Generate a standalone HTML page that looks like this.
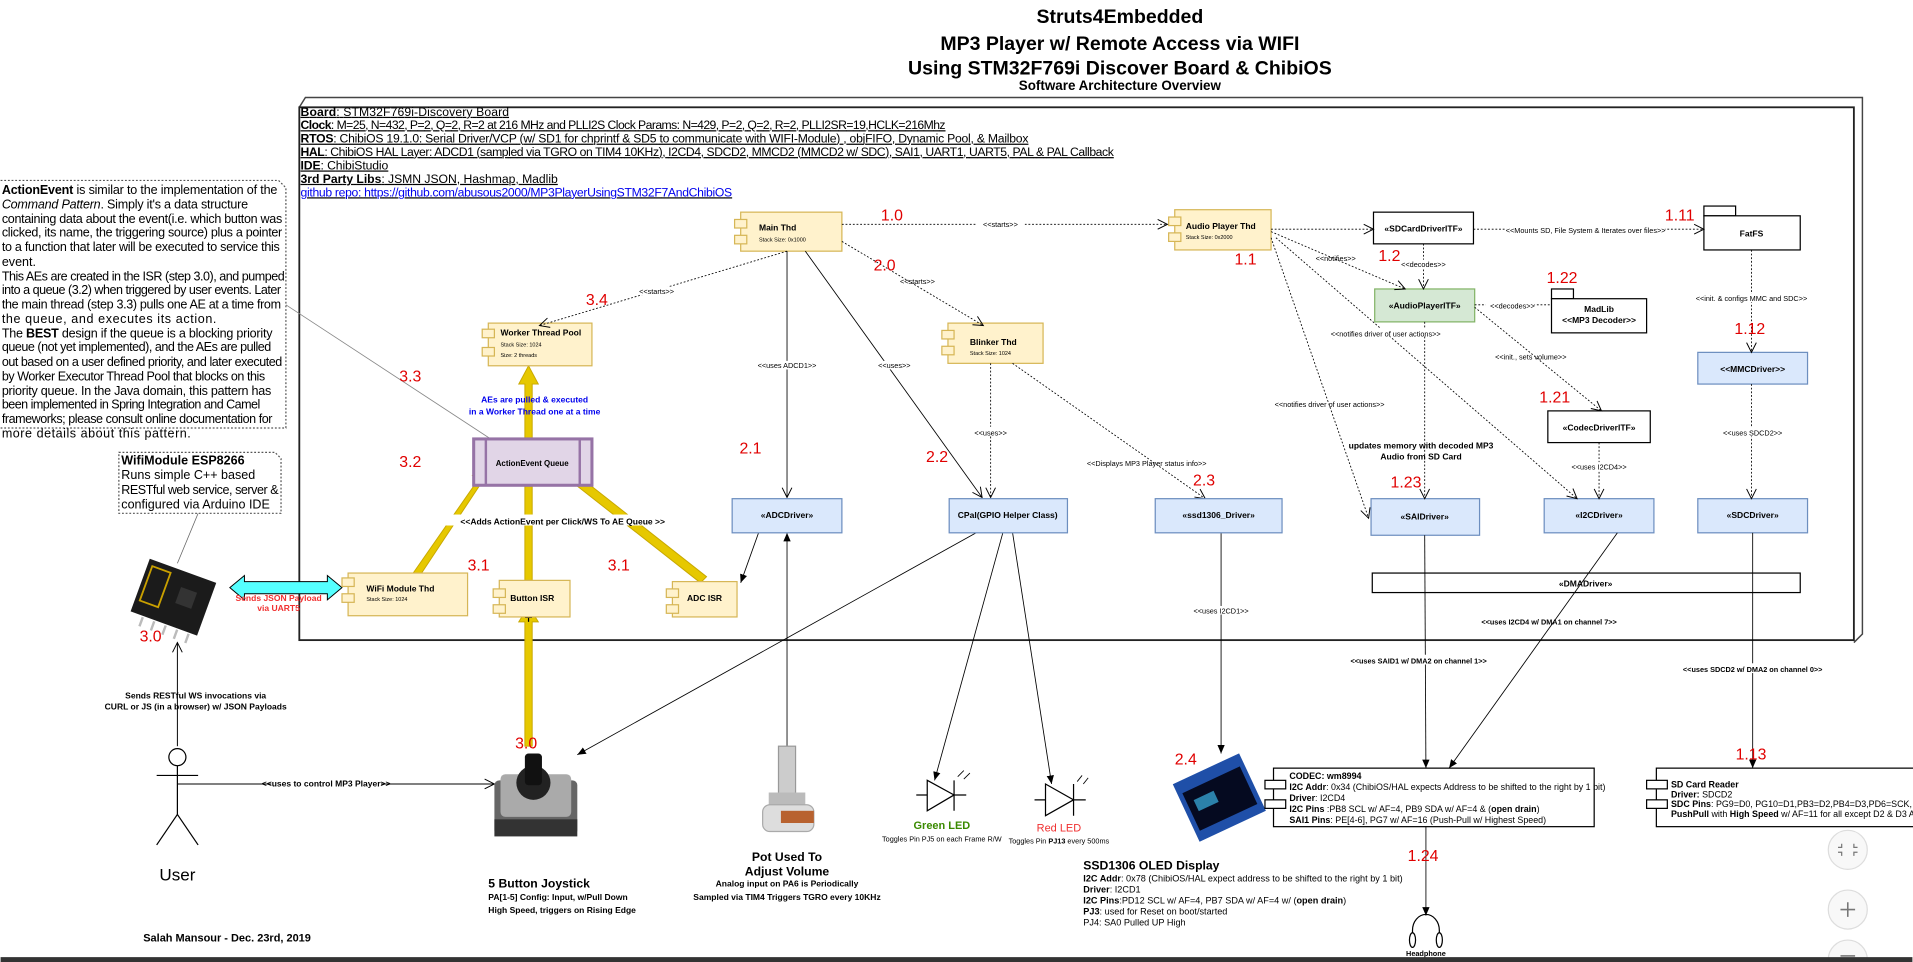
<!DOCTYPE html>
<html><head><meta charset="utf-8"><style>
html,body{margin:0;padding:0;background:#fff;overflow:hidden}
svg{display:block}
text{font-family:"Liberation Sans Narrow","Liberation Sans",sans-serif}
.b{font-weight:bold}
.r{fill:#e00000;font-family:"Liberation Sans",sans-serif}
</style></head><body>
<svg width="1913" height="962" viewBox="0 0 1568 789" xmlns="http://www.w3.org/2000/svg">
<defs>
<marker id="op" markerWidth="10" markerHeight="10" refX="9" refY="5" orient="auto" markerUnits="userSpaceOnUse"><path d="M1,1 L9,5 L1,9" fill="none" stroke="#000" stroke-width="0.8"/></marker>
<marker id="fa" markerWidth="8" markerHeight="8" refX="7" refY="4" orient="auto" markerUnits="userSpaceOnUse"><path d="M0,1 L7,4 L0,7 z" fill="#000"/></marker>
</defs>
<rect width="1568" height="789" fill="#fff"/>

<!-- Title -->
<g text-anchor="middle">
<text x="918" y="19" font-size="16" font-weight="bold" font-family="Liberation Sans,sans-serif">Struts4Embedded</text>
<text x="918" y="41" font-size="16" font-weight="bold" font-family="Liberation Sans,sans-serif">MP3 Player w/ Remote Access via WIFI</text>
<text x="918" y="61" font-size="16" font-weight="bold" font-family="Liberation Sans,sans-serif">Using STM32F769i Discover Board &amp; ChibiOS</text>
<text x="918" y="74" font-size="11" font-weight="bold" font-family="Liberation Sans,sans-serif">Software Architecture Overview</text>
</g>

<!-- Frame -->
<path d="M245,88 L250,80 L1527,80 L1527,520 L1520,527" fill="none" stroke="#444" stroke-width="1.2"/>
<rect x="245" y="88" width="1275" height="437" fill="none" stroke="#222" stroke-width="1.5"/>

<!-- Header text -->
<g font-size="10" text-decoration="underline">
<text x="246" y="95" textLength="171"><tspan class="b">Board</tspan>: STM32F769i-Discovery Board</text>
<text x="246" y="106" textLength="529"><tspan class="b">Clock</tspan>: M=25, N=432, P=2, Q=2, R=2 at 216 MHz and PLLI2S Clock Params: N=429, P=2, Q=2, R=2, PLLI2SR=19,HCLK=216Mhz</text>
<text x="246" y="117" textLength="597"><tspan class="b">RTOS</tspan>: ChibiOS 19.1.0: Serial Driver/VCP (w/ SD1 for chprintf &amp; SD5 to communicate with WIFI-Module) , objFIFO, Dynamic Pool, &amp; Mailbox</text>
<text x="246" y="128" textLength="667"><tspan class="b">HAL</tspan>: ChibiOS HAL Layer: ADCD1 (sampled via  TGRO on TIM4 10KHz), I2CD4, SDCD2, MMCD2 (MMCD2 w/ SDC), SAI1, UART1, UART5, PAL  &amp; PAL Callback</text>
<text x="246" y="139" textLength="72"><tspan class="b">IDE</tspan>: ChibiStudio</text>
<text x="246" y="150" textLength="211"><tspan class="b">3rd Party Libs</tspan>: JSMN JSON, Hashmap, Madlib</text>
<text x="246" y="161" textLength="354" fill="#00e">github repo: https://github.com/abusous2000/MP3PlayerUsingSTM32F7AndChibiOS</text>
</g>

<!-- Left note -->
<path d="M0,148 L228,148 L234,154 L234,351 L0,351" fill="none" stroke="#555" stroke-dasharray="1.5,1.5"/>
<g font-size="10.3">
<text x="1" y="159" textLength="226"><tspan class="b">ActionEvent</tspan> is similar to the implementation of the</text>
<text x="1" y="171" textLength="202"><tspan font-style="italic">Command Pattern</tspan>. Simply it's a data structure</text>
<text x="1" y="183" textLength="230">containing data about the event(i.e. which button was</text>
<text x="1" y="194" textLength="230">clicked, its name, the triggering source) plus a pointer</text>
<text x="1" y="206" textLength="228">to a function that later will be executed to service this</text>
<text x="1" y="218">event.</text>
<text x="1" y="230" textLength="232">This AEs are created in the ISR (step 3.0), and pumped</text>
<text x="1" y="241" textLength="229">into a queue (3.2) when triggered by user events. Later</text>
<text x="1" y="253" textLength="229">the main thread (step 3.3) pulls one AE at a time from</text>
<text x="1" y="265" textLength="176">the queue, and executes its action.</text>
<text x="1" y="277" textLength="222">The <tspan class="b">BEST</tspan> design if the queue is a blocking priority</text>
<text x="1" y="288" textLength="221">queue (not yet implemented), and the AEs are pulled</text>
<text x="1" y="300" textLength="230">out based on a user defined priority, and later executed</text>
<text x="1" y="312" textLength="216">by Worker Executor Thread Pool that blocks on this</text>
<text x="1" y="324" textLength="221">priority queue. In the Java domain, this pattern has</text>
<text x="1" y="335" textLength="212">been implemented in Spring Integration and Camel</text>
<text x="1" y="347" textLength="222">frameworks; please consult online documentation for</text>
<text x="1" y="359" textLength="155">more details about this pattern.</text>
</g>
<line x1="234" y1="250" x2="405" y2="362" stroke="#888" stroke-width="0.7"/>

<!-- Wifi note -->
<path d="M97,371 L225,371 L230,376 L230,421 L97,421 Z" fill="none" stroke="#555" stroke-dasharray="1.5,1.5"/>
<g font-size="10.3"><text x="99" y="381" class="b">WifiModule ESP8266</text>
<text x="99" y="393">Runs simple C++ based</text>
<text x="99" y="405" textLength="129">RESTful web service, server &amp;</text>
<text x="99" y="417">configured via Arduino IDE</text></g>
<line x1="162" y1="421" x2="145" y2="462" stroke="#666" stroke-width="0.6"/>

<!-- ESP board -->
<g transform="translate(142,492) rotate(20)">
<rect x="-30" y="-25" width="58" height="46" fill="#1b1b1b"/>
<rect x="-26" y="-20" width="16" height="30" fill="none" stroke="#c9a000" stroke-width="1.5"/>
<rect x="2" y="-12" width="14" height="14" fill="#333"/>
<g fill="#bbb"><rect x="-20" y="22" width="2" height="8"/><rect x="-10" y="22" width="2" height="8"/><rect x="0" y="22" width="2" height="8"/><rect x="10" y="22" width="2" height="8"/><rect x="20" y="22" width="2" height="8"/></g>
</g>
<text x="114" y="526" class="r" font-size="13">3.0</text>

<!-- cyan double arrow -->
<path d="M188,482 L200,472 L200,477 L268,477 L268,472 L280,482 L268,492 L268,487 L200,487 L200,492 Z" fill="#55ffff" stroke="#000" stroke-width="0.8"/>
<text x="228" y="493" text-anchor="middle" font-size="7" class="b" fill="#f03030">Sends JSON Payload</text>
<text x="228" y="501" text-anchor="middle" font-size="7" class="b" fill="#f03030">via UART5</text>

<!-- User -->
<line x1="145" y1="612" x2="145" y2="527" stroke="#000" stroke-width="0.8" marker-end="url(#op)"/>
<text x="160" y="573" text-anchor="middle" font-size="7" class="b">Sends RESTful WS invocations  via</text>
<text x="160" y="582" text-anchor="middle" font-size="7" class="b">CURL or JS (in a browser) w/ JSON Payloads</text>
<circle cx="145" cy="621" r="7" fill="#fff" stroke="#000"/>
<line x1="145" y1="628" x2="145" y2="668" stroke="#000"/>
<line x1="128" y1="636" x2="162" y2="636" stroke="#000"/>
<line x1="145" y1="668" x2="128" y2="693" stroke="#000"/>
<line x1="145" y1="668" x2="162" y2="693" stroke="#000"/>
<text x="145" y="722" text-anchor="middle" font-size="14">User</text>
<line x1="145" y1="643" x2="405" y2="643" stroke="#000" stroke-width="0.8" marker-end="url(#op)"/>
<rect x="222" y="638" width="90" height="8" fill="#fff"/>
<text x="267" y="645" text-anchor="middle" font-size="7" class="b">&lt;&lt;uses to control MP3 Player&gt;&gt;</text>
<text x="117" y="772" font-size="9" class="b">Salah Mansour - Dec. 23rd, 2019</text>

<!-- Joystick -->
<rect x="405" y="640" width="68" height="45" rx="4" fill="#666"/>
<rect x="410" y="635" width="58" height="35" rx="4" fill="#aaa"/>
<circle cx="437" cy="642" r="14" fill="#222"/>
<rect x="430" y="618" width="14" height="26" rx="3" fill="#111"/>
<rect x="405" y="672" width="68" height="14" fill="#333"/>
<text x="400" y="728" font-size="10" class="b">5 Button Joystick</text>
<text x="400" y="738" font-size="7" class="b">PA[1-5] Config: Input, w/Pull Down</text>
<text x="400" y="749" font-size="7" class="b">High Speed, triggers on Rising Edge</text>

<!-- yellow arrows -->
<g fill="#e6c800" stroke="#c8a800" stroke-width="0.8">
<path d="M430,612 L430,510 L425,510 L433,497 L441,510 L436,510 L436,612 Z"/>
<path d="M430,476 L430,393 L425,393 L433,378 L441,393 L436,393 L436,476 Z"/>
<path d="M337,472 L392,393 L387,390 L404,378 L399,396 L395,395 L342,475 Z"/>
<path d="M574,478 L467,394 L463,398 L458,380 L476,384 L471,388 L579,473 Z"/>
<path d="M430,360 L430,315 L425,315 L433,300 L441,315 L436,315 L436,360 Z"/>
</g>
<line x1="433" y1="510" x2="433" y2="500" stroke="#000" marker-end="url(#fa)"/>
<text x="422" y="614" class="r" font-size="13">3.0</text>
<rect x="365" y="422" width="192" height="9" fill="#fff"/>
<text x="461" y="430" text-anchor="middle" font-size="7" class="b">&lt;&lt;Adds ActionEvent per Click/WS To AE Queue &gt;&gt;</text>
<text x="383" y="468" class="r" font-size="13">3.1</text>
<text x="498" y="468" class="r" font-size="13">3.1</text>
<text x="438" y="330" text-anchor="middle" font-size="7" class="b" fill="#0000ee">AEs are pulled &amp; executed</text>
<text x="438" y="340" text-anchor="middle" font-size="7" class="b" fill="#0000ee">in a Worker Thread one at a time</text>
<text x="327" y="313" class="r" font-size="13">3.3</text>
<text x="327" y="383" class="r" font-size="13">3.2</text>
<text x="480" y="250" class="r" font-size="13">3.4</text>

<!-- component boxes (yellow) -->
<g fill="#fff2cc" stroke="#d6b656" stroke-width="1">
<rect x="285" y="470" width="98" height="35"/>
<rect x="280" y="474" width="10" height="7"/><rect x="280" y="487" width="10" height="7"/>
<rect x="409" y="476" width="58" height="30"/><rect x="404" y="483" width="10" height="7"/><rect x="404" y="496" width="10" height="7"/>
<rect x="551" y="477" width="53" height="29"/><rect x="546" y="483" width="10" height="7"/><rect x="546" y="496" width="10" height="7"/>
<rect x="400" y="265" width="85" height="35"/><rect x="395" y="270" width="10" height="7"/><rect x="395" y="285" width="10" height="7"/>
<rect x="607" y="174" width="83" height="32"/><rect x="602" y="180" width="10" height="7"/><rect x="602" y="193" width="10" height="7"/>
<rect x="777" y="265" width="78" height="33"/><rect x="772" y="271" width="10" height="7"/><rect x="772" y="284" width="10" height="7"/>
<rect x="963" y="172" width="79" height="33"/><rect x="958" y="178" width="10" height="7"/><rect x="958" y="191" width="10" height="7"/>
</g>
<g font-size="7" class="b">
<text x="300" y="485">WiFi Module Thd</text><text x="300" y="493" font-size="4.5" font-weight="normal">Stack Size: 1024</text>
<text x="418" y="493">Button ISR</text>
<text x="563" y="493">ADC ISR</text>
<text x="410" y="275">Worker Thread Pool</text><text x="410" y="284" font-size="4.5" font-weight="normal">Stack Size: 1024</text><text x="410" y="293" font-size="4.5" font-weight="normal">Size: 2 threads</text>
<text x="622" y="189">Main Thd</text><text x="622" y="198" font-size="4.5" font-weight="normal">Stack Size: 0x1000</text>
<text x="795" y="283">Blinker Thd</text><text x="795" y="291" font-size="4.5" font-weight="normal">Stack Size: 1024</text>
<text x="972" y="188">Audio Player Thd</text><text x="972" y="196" font-size="4.5" font-weight="normal">Stack Size: 0x2000</text>
</g>

<!-- queue -->
<rect x="388" y="360" width="97" height="38" fill="#e1d5e7" stroke="#9673a6" stroke-width="2.5"/>
<line x1="398" y1="360" x2="398" y2="398" stroke="#9673a6" stroke-width="2"/>
<line x1="475" y1="360" x2="475" y2="398" stroke="#9673a6" stroke-width="2"/>
<text x="436" y="382" text-anchor="middle" font-size="6.5" class="b">ActionEvent Queue</text>

<!-- Main thd connectors -->
<g stroke="#000" stroke-width="0.7" fill="none">
<line x1="690" y1="184" x2="957" y2="184" stroke-dasharray="1.5,1.5" marker-end="url(#op)"/>
<line x1="645" y1="206" x2="442" y2="267" stroke-dasharray="1.5,1.5" marker-end="url(#op)"/>
<line x1="690" y1="198" x2="806" y2="267" stroke-dasharray="1.5,1.5" marker-end="url(#op)"/>
<line x1="645" y1="206" x2="645" y2="408" marker-end="url(#op)"/>
<line x1="660" y1="206" x2="805" y2="408" marker-end="url(#op)"/>
<line x1="812" y1="298" x2="812" y2="408" stroke-dasharray="1.5,1.5" marker-end="url(#op)"/>
<line x1="830" y1="298" x2="988" y2="409" stroke-dasharray="1.5,1.5" marker-end="url(#op)"/>
<line x1="622" y1="436" x2="607" y2="478" marker-end="url(#fa)"/>
<line x1="645" y1="612" x2="645" y2="437" marker-end="url(#fa)"/>
<line x1="800" y1="437" x2="473" y2="619" marker-end="url(#fa)"/>
<line x1="822" y1="437" x2="766" y2="640" marker-end="url(#fa)"/>
<line x1="830" y1="437" x2="862" y2="643" marker-end="url(#fa)"/>
<line x1="1001" y1="436" x2="1001" y2="618" marker-end="url(#fa)"/>
</g>
<g font-size="6" text-anchor="middle">
<rect x="800" y="180" width="40" height="7" fill="#fff"/><text x="820" y="186">&lt;&lt;starts&gt;&gt;</text>
<rect x="518" y="235" width="40" height="7" fill="#fff"/><text x="538" y="241">&lt;&lt;starts&gt;&gt;</text>
<text x="752" y="233">&lt;&lt;starts&gt;&gt;</text>
<rect x="620" y="296" width="50" height="7" fill="#fff"/><text x="645" y="302">&lt;&lt;uses ADCD1&gt;&gt;</text>
<rect x="720" y="296" width="26" height="7" fill="#fff"/><text x="733" y="302">&lt;&lt;uses&gt;&gt;</text>
<rect x="800" y="350" width="26" height="7" fill="#fff"/><text x="812" y="357">&lt;&lt;uses&gt;&gt;</text>
<text x="940" y="382">&lt;&lt;Displays MP3 Player status info&gt;&gt;</text>
<rect x="976" y="497" width="50" height="7" fill="#fff"/><text x="1001" y="503">&lt;&lt;uses I2CD1&gt;&gt;</text>
</g>
<text x="722" y="181" class="r" font-size="13">1.0</text>
<text x="716" y="222" class="r" font-size="13">2.0</text>
<text x="606" y="372" class="r" font-size="13">2.1</text>
<text x="759" y="379" class="r" font-size="13">2.2</text>
<text x="978" y="398" class="r" font-size="13">2.3</text>
<text x="963" y="627" class="r" font-size="13">2.4</text>
<text x="1012" y="217" class="r" font-size="13">1.1</text>

<!-- blue boxes -->
<g fill="#dae8fc" stroke="#6c8ebf" stroke-width="1">
<rect x="600" y="409" width="90" height="28"/>
<rect x="778" y="409" width="97" height="28"/>
<rect x="947" y="409" width="104" height="28"/>
<rect x="1124" y="409" width="89" height="30"/>
<rect x="1266" y="409" width="90" height="28"/>
<rect x="1392" y="409" width="90" height="28"/>
<rect x="1392" y="289" width="90" height="26"/>
</g>
<g font-size="7" class="b" text-anchor="middle">
<text x="645" y="425">«ADCDriver»</text>
<text x="826" y="425">CPal(GPIO Helper Class)</text>
<text x="999" y="425">«ssd1306_Driver»</text>
<text x="1168" y="426">«SAIDriver»</text>
<text x="1311" y="425">«I2CDriver»</text>
<text x="1437" y="425">«SDCDriver»</text>
<text x="1437" y="305">&lt;&lt;MMCDriver&gt;&gt;</text>
</g>

<!-- right-top boxes -->
<rect x="1126" y="174" width="82" height="26" fill="#fff" stroke="#000"/>
<text x="1167" y="190" text-anchor="middle" font-size="7" class="b">«SDCardDriverITF»</text>
<rect x="1127" y="237" width="82" height="27" fill="#d5e8d4" stroke="#82b366"/>
<text x="1168" y="253" text-anchor="middle" font-size="7" class="b">«AudioPlayerITF»</text>
<rect x="1397" y="169" width="26" height="8" fill="#fff" stroke="#000"/>
<rect x="1397" y="177" width="79" height="28" fill="#fff" stroke="#000"/>
<text x="1436" y="194" text-anchor="middle" font-size="7" class="b">FatFS</text>
<rect x="1272" y="237" width="18" height="8" fill="#fff" stroke="#000"/>
<rect x="1272" y="245" width="78" height="28" fill="#fff" stroke="#000"/>
<text x="1311" y="256" text-anchor="middle" font-size="7" class="b">MadLib</text>
<text x="1311" y="265" text-anchor="middle" font-size="7" class="b">&lt;&lt;MP3 Decoder&gt;&gt;</text>
<rect x="1269" y="337" width="84" height="26" fill="#fff" stroke="#000"/>
<text x="1311" y="353" text-anchor="middle" font-size="7" class="b">«CodecDriverITF»</text>
<rect x="1125" y="470" width="351" height="16" fill="#fff" stroke="#000"/>
<text x="1300" y="481" text-anchor="middle" font-size="7" class="b">«DMADriver»</text>

<g stroke="#000" stroke-width="0.7" fill="none">
<line x1="1042" y1="188" x2="1126" y2="188" stroke-dasharray="1.5,1.5" marker-end="url(#op)"/>
<line x1="1208" y1="188" x2="1397" y2="188" stroke-dasharray="1.5,1.5" marker-end="url(#op)"/>
<line x1="1167" y1="200" x2="1167" y2="237" stroke-dasharray="1.5,1.5" marker-end="url(#op)"/>
<line x1="1042" y1="190" x2="1152" y2="237" stroke-dasharray="1.5,1.5" marker-end="url(#op)"/>
<line x1="1209" y1="250" x2="1272" y2="250" stroke-dasharray="1.5,1.5"/>
<line x1="1209" y1="252" x2="1313" y2="337" stroke-dasharray="1.5,1.5" marker-end="url(#op)"/>
<line x1="1168" y1="264" x2="1168" y2="409" stroke-dasharray="1.5,1.5" marker-end="url(#op)"/>
<line x1="1042" y1="195" x2="1122" y2="425" stroke-dasharray="1.5,1.5" marker-end="url(#op)"/>
<line x1="1046" y1="195" x2="1293" y2="409" stroke-dasharray="1.5,1.5" marker-end="url(#op)"/>
<line x1="1311" y1="363" x2="1311" y2="409" stroke-dasharray="1.5,1.5" marker-end="url(#op)"/>
<line x1="1436" y1="205" x2="1436" y2="289" stroke-dasharray="1.5,1.5" marker-end="url(#op)"/>
<line x1="1436" y1="315" x2="1436" y2="409" stroke-dasharray="1.5,1.5" marker-end="url(#op)"/>
<line x1="1168" y1="439" x2="1169" y2="630" marker-end="url(#fa)"/>
<line x1="1326" y1="437" x2="1188" y2="630" marker-end="url(#fa)"/>
<line x1="1437" y1="437" x2="1437" y2="630" marker-end="url(#fa)"/>
<line x1="1169" y1="678" x2="1169" y2="751" marker-end="url(#fa)"/>
</g>
<g font-size="6" text-anchor="middle">
<rect x="1235" y="185" width="130" height="7" fill="#fff"/><text x="1300" y="191">&lt;&lt;Mounts SD, File System &amp; Iterates over files&gt;&gt;</text>
<rect x="1144" y="213" width="46" height="7" fill="#fff"/><text x="1167" y="219">&lt;&lt;decodes&gt;&gt;</text>
<text x="1095" y="214">&lt;&lt;notifies&gt;&gt;</text>
<rect x="1218" y="247" width="40" height="7" fill="#fff"/><text x="1240" y="253">&lt;&lt;decodes&gt;&gt;</text>
<rect x="1090" y="269" width="100" height="7" fill="#fff"/><text x="1136" y="276">&lt;&lt;notifies driver of user actions&gt;&gt;</text>
<text x="1090" y="334">&lt;&lt;notifies driver of user actions&gt;&gt;</text>
<text x="1255" y="295">&lt;&lt;init., sets volume&gt;&gt;</text>
<rect x="1386" y="241" width="100" height="7" fill="#fff"/><text x="1436" y="247">&lt;&lt;init. &amp; configs MMC and SDC&gt;&gt;</text>
<rect x="1410" y="351" width="54" height="7" fill="#fff"/><text x="1437" y="357">&lt;&lt;uses SDCD2&gt;&gt;</text>
<rect x="1287" y="379" width="48" height="7" fill="#fff"/><text x="1311" y="385">&lt;&lt;uses I2CD4&gt;&gt;</text>
<text x="1270" y="512" class="b">&lt;&lt;uses I2CD4 w/ DMA1 on channel 7&gt;&gt;</text>
<rect x="1110" y="537" width="108" height="8" fill="#fff"/><text x="1163" y="544" class="b">&lt;&lt;uses SAID1 w/ DMA2 on channel 1&gt;&gt;</text>
<rect x="1383" y="544" width="108" height="8" fill="#fff"/><text x="1437" y="551" class="b">&lt;&lt;uses SDCD2 w/ DMA2 on channel 0&gt;&gt;</text>
<text x="1165" y="368" font-size="7" class="b">updates memory with decoded MP3</text>
<text x="1165" y="377" font-size="7" class="b">Audio from SD Card</text>
</g>
<text x="1130" y="214" class="r" font-size="13">1.2</text>
<text x="1365" y="181" class="r" font-size="13">1.11</text>
<text x="1268" y="232" class="r" font-size="13">1.22</text>
<text x="1422" y="274" class="r" font-size="13">1.12</text>
<text x="1262" y="330" class="r" font-size="13">1.21</text>
<text x="1140" y="400" class="r" font-size="13">1.23</text>
<text x="1423" y="623" class="r" font-size="13">1.13</text>
<text x="1154" y="706" class="r" font-size="13">1.24</text>

<!-- Pot -->
<rect x="638" y="612" width="14" height="42" fill="#ccc" stroke="#999"/>
<rect x="630" y="650" width="30" height="12" fill="#bbb"/>
<rect x="625" y="660" width="42" height="22" rx="6" fill="#ddd" stroke="#aaa"/>
<rect x="640" y="665" width="27" height="10" fill="#b8622f"/>
<g text-anchor="middle" class="b"><text x="645" y="706" font-size="10">Pot Used To</text>
<text x="645" y="718" font-size="10">Adjust Volume</text>
<text x="645" y="727" font-size="7">Analog input on PA6 is Periodically</text>
<text x="645" y="738" font-size="7">Sampled via TIM4 Triggers TGRO every 10KHz</text></g>

<!-- LEDs -->
<g stroke="#000" stroke-width="1" fill="#fff">
<path d="M751,652 L760,652 M760,640 L760,665 L782,652 Z M782,640 L782,665 M782,652 L792,652"/>
<path d="M848,656 L857,656 M857,643 L857,669 L880,656 Z M880,643 L880,669 M880,656 L890,656"/>
<path d="M785,637 L790,632 M790,639 L795,634 M883,641 L887,636 M888,643 L892,638" fill="none" stroke-width="0.7"/>
</g>
<text x="772" y="680" text-anchor="middle" font-size="9" class="b" fill="#3a8a00">Green LED</text>
<text x="772" y="690" text-anchor="middle" font-size="6">Toggles Pin PJ5 on each Frame R/W</text>
<text x="868" y="682" text-anchor="middle" font-size="9" fill="#f03030">Red LED</text>
<text x="868" y="692" text-anchor="middle" font-size="6">Toggles Pin <tspan class="b">PJ13</tspan> every 500ms</text>

<!-- OLED -->
<g transform="translate(1000,655) rotate(-25)">
<rect x="-30" y="-27" width="60" height="52" fill="#1f4fa8"/>
<rect x="-26" y="-17" width="52" height="34" fill="#050a20"/>
<rect x="-20" y="-8" width="18" height="10" fill="#3cb4e6" opacity="0.7"/>
</g>
<g font-size="7.5"><text x="888" y="713" font-size="10" class="b">SSD1306 OLED Display</text>
<text x="888" y="723"><tspan class="b">I2C Addr</tspan>: 0x78 (ChibiOS/HAL expect address to be shifted to the right by 1 bit)</text>
<text x="888" y="732"><tspan class="b">Driver</tspan>: I2CD1</text>
<text x="888" y="741"><tspan class="b">I2C Pins</tspan>:PD12 SCL w/ AF=4, PB7 SDA w/ AF=4 w/ (<tspan class="b">open drain</tspan>)</text>
<text x="888" y="750"><tspan class="b">PJ3</tspan>: used for Reset on boot/started</text>
<text x="888" y="759">PJ4: SA0 Pulled UP High</text></g>

<!-- CODEC box -->
<rect x="1044" y="630" width="263" height="48" fill="#fff" stroke="#000"/>
<rect x="1037" y="640" width="17" height="7" fill="#fff" stroke="#000"/>
<rect x="1037" y="656" width="17" height="7" fill="#fff" stroke="#000"/>
<g font-size="7.3" font-family="DejaVu Sans Condensed,Liberation Sans,sans-serif">
<text x="1057" y="639" class="b">CODEC: wm8994</text>
<text x="1057" y="648"><tspan class="b">I2C Addr</tspan>: 0x34 (ChibiOS/HAL expects Address to be shifted to the right by 1 bit)</text>
<text x="1057" y="657"><tspan class="b">Driver</tspan>: I2CD4</text>
<text x="1057" y="666"><tspan class="b">I2C Pins</tspan> :PB8 SCL w/ AF=4, PB9 SDA w/ AF=4 &amp; (<tspan class="b">open drain</tspan>)</text>
<text x="1057" y="675"><tspan class="b">SAI1 Pins</tspan>: PE[4-6], PG7 w/ AF=16 (Push-Pull w/ Highest Speed)</text>
</g>
<!-- SD card box -->
<rect x="1358" y="630" width="220" height="48" fill="#fff" stroke="#000"/>
<rect x="1350" y="640" width="17" height="7" fill="#fff" stroke="#000"/>
<rect x="1350" y="656" width="17" height="7" fill="#fff" stroke="#000"/>
<g font-size="7.3" font-family="DejaVu Sans,Liberation Sans,sans-serif">
<text x="1370" y="646" class="b">SD Card Reader</text>
<text x="1370" y="654"><tspan class="b">Driver:</tspan> SDCD2</text>
<text x="1370" y="662"><tspan class="b">SDC Pins</tspan>: PG9=D0, PG10=D1,PB3=D2,PB4=D3,PD6=SCK, PD2=CMD</text>
<text x="1370" y="670"><tspan class="b">PushPull</tspan> with <tspan class="b">High Speed</tspan> w/ AF=11 for all except D2 &amp; D3 AF=10</text>
</g>

<!-- Headphone -->
<path d="M1158,771 L1158,763 A11,13 0 0 1 1180,763 L1180,771" fill="none" stroke="#000"/>
<ellipse cx="1158" cy="771" rx="2.5" ry="6" fill="#fff" stroke="#000"/>
<ellipse cx="1180" cy="771" rx="2.5" ry="6" fill="#fff" stroke="#000"/>
<text x="1169" y="784" text-anchor="middle" font-size="6" class="b">Headphone</text>

<!-- zoom buttons -->
<g fill="#f8f8f8" stroke="#ddd">
<circle cx="1515" cy="697" r="16"/><circle cx="1515" cy="746" r="16"/><circle cx="1515" cy="787" r="16"/>
</g>
<path d="M1510,692 v3 h-3 M1520,692 v3 h3 M1510,702 v-3 h-3 M1520,702 v-3 h3" stroke="#777" fill="none"/>
<path d="M1509,746 h12 M1515,740 v12" stroke="#777" fill="none" stroke-width="1.3"/>
<path d="M1509,784 h12" stroke="#777" stroke-width="1.3"/>
<rect x="0" y="785" width="1568" height="4" fill="#333"/>
</svg>
</body></html>
